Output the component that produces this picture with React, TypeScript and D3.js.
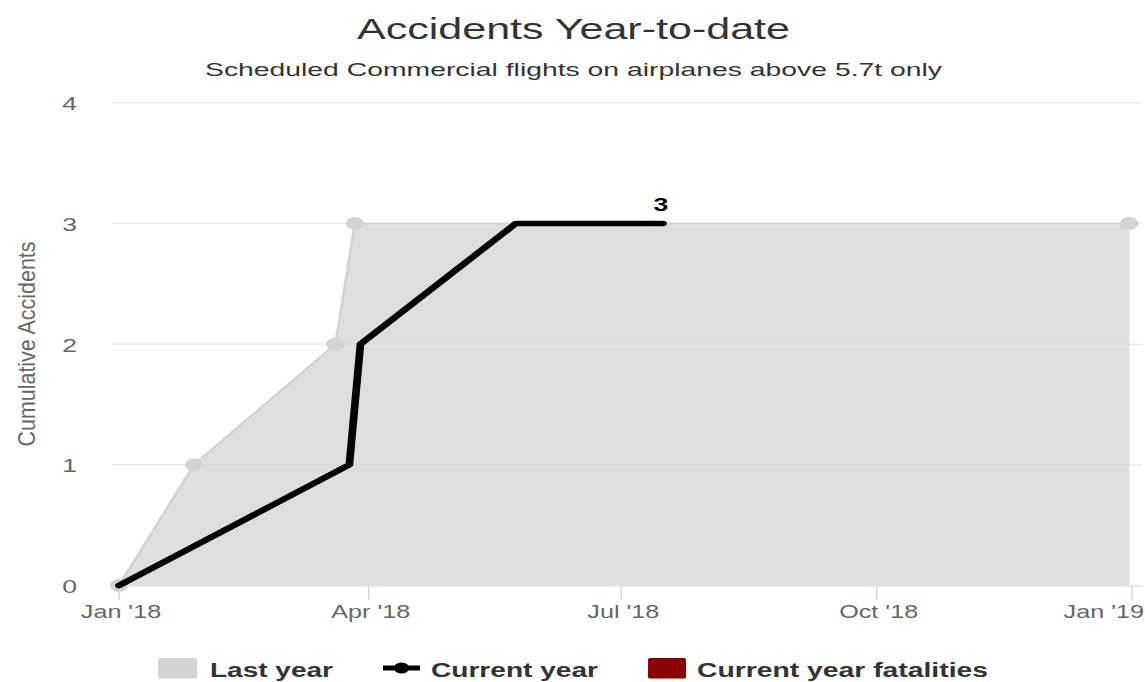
import React from 'react';
import * as d3 from 'd3';

// Horizontal stretch of the reference picture
const S = 1.4;
const VW = 1145 / S;
const H = 682;
const vx = (px: number) => px / S;

const title = 'Accidents Year-to-date';
const subtitle = 'Scheduled Commercial flights on airplanes above 5.7t only';
const yAxisTitle = 'Cumulative Accidents';

const lastYearDates = ['2018-01-01', '2018-01-28', '2018-03-20', '2018-03-27', '2018-12-31'];
const lastYearValues = [0, 1, 2, 3, 3];
const currentYearDates = ['2018-01-01', '2018-03-25', '2018-03-29', '2018-05-24', '2018-07-16'];
const currentYearValues = [0, 1, 2, 3, 3];
const yTicks = [0, 1, 2, 3, 4];
const xTickDates = ['2018-01-01', '2018-04-01', '2018-07-01', '2018-10-01', '2019-01-01'];
const xTickLabels = ["Jan '18", "Apr '18", "Jul '18", "Oct '18", "Jan '19"];
const legendLabels = ['Last year', 'Current year', 'Current year fatalities'];

const parse = d3.utcParse('%Y-%m-%d');

export default function App() {
  const x = d3
    .scaleUtc()
    .domain([parse('2018-01-01') as Date, parse('2019-01-01') as Date])
    .range([vx(119), vx(1132)]);
  const y = d3.scaleLinear().domain([0, 4]).range([585.5, 102.8]);
  const plotLeft = vx(112);
  const plotRight = vx(1142);

  const last = lastYearDates.map((d, i) => ({ d: parse(d) as Date, v: lastYearValues[i] }));
  const cur = currentYearDates.map((d, i) => ({ d: parse(d) as Date, v: currentYearValues[i] }));

  const area = d3
    .area<{ d: Date; v: number }>()
    .x((p) => x(p.d))
    .y0(y(0))
    .y1((p) => y(p.v));
  const line = d3
    .line<{ d: Date; v: number }>()
    .x((p) => x(p.d))
    .y((p) => y(p.v));

  const font = "'Liberation Sans', Arial, sans-serif";
  const lastPt = cur[cur.length - 1];

  return (
    <svg
      width={1145}
      height={H}
      viewBox={`0 0 ${VW} ${H}`}
      preserveAspectRatio="none"
      style={{ position: 'absolute', left: 0, top: 0 }}
      fontFamily={font}
    >
      <rect x={0} y={0} width={VW} height={H} fill="#fff" />
      <text x={vx(573.5)} y={39} textAnchor="middle" fontSize={30} fill="#333"
        textLength={vx(433)} lengthAdjust="spacingAndGlyphs">{title}</text>
      <text x={vx(573.5)} y={76} textAnchor="middle" fontSize={18} fill="#333"
        textLength={vx(737)} lengthAdjust="spacingAndGlyphs">{subtitle}</text>

      {/* grid */}
      {yTicks.map((t) => (
        <g key={t}>
          {t > 0 && (
            <line x1={plotLeft} x2={plotRight} y1={y(t)} y2={y(t)} stroke="#e6e6e6" strokeWidth={1.2} />
          )}
          <text x={vx(77)} y={y(t) + 7.5} textAnchor="end" fontSize={19} fill="#666">{t}</text>
        </g>
      ))}

      <text transform={`translate(${vx(35)},344) rotate(-90)`} textAnchor="middle" fontSize={16.5}
        fill="#666" textLength={205} lengthAdjust="spacingAndGlyphs">{yAxisTitle}</text>

      {/* last year area */}
      <path d={area(last) || ''} fill="#d3d3d3" fillOpacity={0.75} />
      <path d={line(last) || ''} fill="none" stroke="#d3d3d3" strokeWidth={2} />
      {last.map((p, i) => (
        <circle key={i} cx={x(p.d)} cy={y(p.v)} r={6.5} fill="#d3d3d3" />
      ))}

      {/* x axis */}
      <line x1={plotLeft} x2={plotRight} y1={y(0) + 0.5} y2={y(0) + 0.5} stroke="#ccd6eb" strokeWidth={1.2} />
      {xTickDates.map((d, i) => {
        const tx = x(parse(d) as Date);
        const isLast = i === xTickDates.length - 1;
        return (
          <g key={d}>
            <line x1={tx} x2={tx} y1={y(0)} y2={600} stroke="#ccd6eb" strokeWidth={1} />
            <text x={isLast ? vx(1144) : tx + vx(2)} y={618} textAnchor={isLast ? 'end' : 'middle'}
              fontSize={18} fill="#666">{xTickLabels[i]}</text>
          </g>
        );
      })}

      {/* current year line */}
      <path d={line(cur) || ''} fill="none" stroke="#000" strokeWidth={5.5}
        strokeLinejoin="round" strokeLinecap="round" />
      <text x={x(lastPt.d) - vx(2)} y={y(lastPt.v) - 12} textAnchor="middle" fontSize={19}
        fontWeight="bold" fill="#000">{lastPt.v}</text>

      {/* legend */}
      <rect x={vx(158)} y={658} width={vx(197) - vx(158)} height={20.5} fill="#d3d3d3" rx={1.5} />
      <text x={vx(210)} y={677} fontSize={20} fontWeight="bold" fill="#333"
        textLength={vx(123)} lengthAdjust="spacingAndGlyphs">{legendLabels[0]}</text>
      <line x1={vx(383)} x2={vx(420)} y1={668} y2={668} stroke="#000" strokeWidth={5} />
      <circle cx={vx(401.5)} cy={668} r={5.5} fill="#000" />
      <text x={vx(431)} y={677} fontSize={20} fontWeight="bold" fill="#333"
        textLength={vx(167)} lengthAdjust="spacingAndGlyphs">{legendLabels[1]}</text>
      <rect x={vx(648)} y={658} width={vx(686) - vx(648)} height={20.5} fill="#8b0000" rx={1.5} />
      <text x={vx(697)} y={677} fontSize={20} fontWeight="bold" fill="#333"
        textLength={vx(291)} lengthAdjust="spacingAndGlyphs">{legendLabels[2]}</text>
    </svg>
  );
}
